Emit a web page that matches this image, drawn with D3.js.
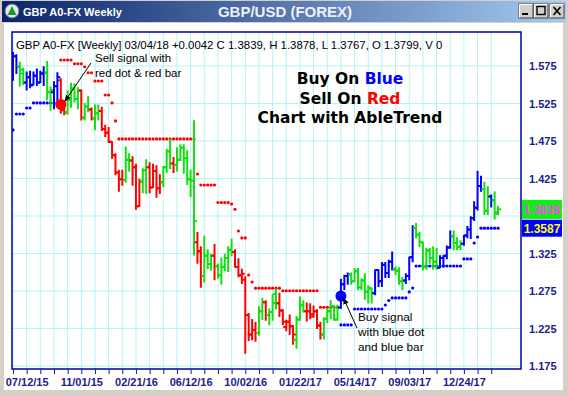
<!DOCTYPE html>
<html><head><meta charset="utf-8">
<script src="https://cdn.jsdelivr.net/npm/d3@7"></script>
<style>html,body{margin:0;padding:0;background:#d4d0c8;overflow:hidden}</style>
</head><body>
<svg id="c" width="568" height="396"></svg>
<script>
// ---------------- DATA ----------------
const firstWeek = "2015-06-14";
const lastWeek = "2018-03-04";
const open = [
1.566,1.588,1.574,1.565,1.553,1.560,1.550,1.562,1.553,1.565,
1.566,1.540,1.540,1.548,1.556,1.519,1.513,1.530,1.545,1.531,
1.542,1.506,1.521,1.517,1.505,1.512,1.515,1.491,1.486,1.474,
1.456,1.433,1.424,1.423,1.450,1.449,1.440,1.388,1.421,1.436,
1.440,1.413,1.435,1.412,1.420,1.440,1.461,1.445,1.443,1.450,
1.466,1.452,1.424,1.422,1.340,1.328,1.295,1.322,1.311,1.322,
1.308,1.296,1.307,1.319,1.330,1.327,1.307,1.296,1.290,1.243,
1.217,1.223,1.219,1.248,1.260,1.243,1.247,1.271,1.259,1.249,
1.227,1.234,1.228,1.210,1.237,1.256,1.248,1.248,1.244,1.248,
1.229,1.217,1.238,1.248,1.255,1.237,1.253,1.284,1.295,1.297,
1.288,1.301,1.280,1.289,1.274,1.278,1.272,1.303,1.288,1.310,
1.299,1.314,1.304,1.302,1.288,1.289,1.295,1.320,1.359,1.350,
1.340,1.307,1.329,1.319,1.314,1.306,1.319,1.322,1.333,1.348,
1.339,1.334,1.338,1.349,1.357,1.372,1.386,1.415,1.411,1.382,
1.401,1.396,1.3799];
const high = [
1.593,1.590,1.580,1.572,1.567,1.568,1.567,1.571,1.568,1.574,
1.581,1.547,1.554,1.566,1.558,1.523,1.542,1.552,1.551,1.546,
1.543,1.525,1.534,1.519,1.523,1.523,1.520,1.496,1.493,1.474,
1.458,1.436,1.436,1.467,1.458,1.454,1.444,1.424,1.438,1.450,
1.446,1.444,1.442,1.430,1.441,1.464,1.477,1.453,1.466,1.470,
1.470,1.462,1.436,1.502,1.353,1.334,1.348,1.330,1.324,1.337,
1.311,1.319,1.324,1.334,1.344,1.330,1.318,1.304,1.294,1.245,
1.237,1.233,1.254,1.265,1.262,1.251,1.270,1.2775,1.272,1.250,
1.236,1.243,1.229,1.241,1.267,1.262,1.259,1.258,1.255,1.250,
1.233,1.239,1.251,1.262,1.255,1.256,1.2905,1.296,1.299,1.299,
1.305,1.305,1.291,1.298,1.282,1.279,1.303,1.303,1.313,1.313,
1.316,1.327,1.307,1.306,1.293,1.298,1.320,1.362,1.365,1.353,
1.340,1.332,1.332,1.334,1.332,1.322,1.322,1.335,1.355,1.355,
1.346,1.342,1.349,1.361,1.374,1.394,1.4345,1.428,1.420,1.414,
1.403,1.407,1.3878];
const low = [
1.556,1.565,1.548,1.550,1.543,1.546,1.550,1.549,1.553,1.549,
1.530,1.516,1.518,1.523,1.512,1.510,1.511,1.520,1.527,1.518,
1.503,1.503,1.514,1.503,1.490,1.503,1.489,1.481,1.473,1.452,
1.430,1.408,1.416,1.420,1.435,1.416,1.384,1.388,1.406,1.405,
1.406,1.413,1.400,1.405,1.414,1.433,1.438,1.433,1.435,1.449,
1.432,1.417,1.401,1.323,1.312,1.280,1.287,1.305,1.303,1.290,
1.292,1.284,1.302,1.301,1.322,1.307,1.294,1.285,1.192,1.209,
1.210,1.208,1.216,1.237,1.236,1.230,1.236,1.251,1.241,1.230,
1.222,1.217,1.204,1.1986,1.236,1.247,1.235,1.238,1.240,1.225,
1.211,1.211,1.233,1.238,1.236,1.236,1.252,1.277,1.284,1.284,
1.288,1.277,1.277,1.264,1.259,1.259,1.270,1.281,1.281,1.293,
1.293,1.303,1.297,1.284,1.277,1.285,1.290,1.314,1.346,1.334,
1.303,1.304,1.312,1.304,1.304,1.306,1.307,1.318,1.332,1.330,
1.330,1.330,1.336,1.346,1.345,1.369,1.383,1.408,1.377,1.377,
1.387,1.371,1.3767];
const close = [
1.588,1.574,1.570,1.553,1.560,1.549,1.562,1.553,1.565,1.566,
1.540,1.543,1.548,1.560,1.516,1.513,1.530,1.545,1.531,1.543,
1.506,1.521,1.517,1.505,1.512,1.515,1.491,1.486,1.474,1.456,
1.433,1.424,1.423,1.450,1.449,1.440,1.388,1.421,1.436,1.440,
1.413,1.435,1.412,1.420,1.440,1.461,1.445,1.443,1.450,1.466,
1.452,1.424,1.422,1.368,1.328,1.295,1.322,1.311,1.322,1.308,
1.296,1.307,1.319,1.330,1.327,1.307,1.296,1.298,1.243,1.217,
1.223,1.219,1.248,1.260,1.243,1.247,1.259,1.258,1.249,1.234,
1.234,1.228,1.217,1.237,1.256,1.248,1.248,1.241,1.248,1.229,
1.217,1.238,1.248,1.255,1.237,1.253,1.284,1.295,1.297,1.288,
1.302,1.280,1.289,1.274,1.279,1.272,1.303,1.288,1.310,1.299,
1.314,1.304,1.302,1.288,1.289,1.295,1.320,1.359,1.350,1.340,
1.307,1.329,1.319,1.314,1.306,1.319,1.322,1.333,1.348,1.339,
1.334,1.338,1.349,1.357,1.372,1.386,1.415,1.411,1.382,1.401,
1.396,1.378,1.3839];
// AbleTrend bar colour per week: B = blue (up), R = red (down), G = green (neutral)
const barTrend = ("BBGGBBBBBBGGBBRRGGGGRGGRGGRRRRRRRGGRRRGGRRRRGGGRGGGGGGRRGGGRGGGGGRRRRRRRGGRGGGRRRRRGGGRRRRRGGGGGBBBGGGGGGGBBBBBBGGGBBBGGGGGGGBBBBGGGBBBBBBGGBGG").split("");
// AbleTrend stop dots
const stops = [
1.4897,
1.511,1.511,1.511,
1.519,1.519,
1.5257,1.5257,1.5257,1.5257,1.5257,1.5257,1.5257,1.5257,
1.583,1.583,1.583,1.583,
1.578,1.578,1.578,
1.574,
1.566,1.566,
1.555,1.555,1.555,
1.5363,1.5363,
1.5257,
1.5017,
1.4777,1.4777,1.4777,1.4777,1.4777,1.4777,1.4777,1.4777,1.4777,1.4777,1.4777,1.4777,
1.4777,1.4777,1.4777,1.4777,1.4777,1.4777,1.4777,1.4777,1.4777,1.4777,1.4777,
1.431,
1.4163,1.4163,1.4163,1.4163,1.4163,
1.393,1.393,1.393,1.393,
1.391,
1.384,
1.355,
1.3457,1.3457,
1.2963,
1.287,
1.2787,1.2787,1.2787,1.2787,1.2787,1.2787,1.2787,1.2787,
1.2753,1.2753,1.2753,1.2753,1.2753,1.2753,1.2753,1.2753,1.2753,1.2753,1.2753,
1.2533,1.2533,1.2533,1.2533,1.2533,1.2533,
1.2297,1.2297,1.2297,1.2297,
1.251,1.251,1.251,1.251,1.251,1.251,1.251,1.251,1.251,
1.2563,
1.2623,
1.2657,1.2657,1.2657,1.2657,1.2657,
1.2737,
1.279,
1.3083,1.3083,1.3083,1.3083,1.3083,1.3083,1.3083,1.3083,1.3083,1.3083,1.3083,1.3083,1.3083,1.3083,
1.3177,1.3177,1.3177,
1.339,
1.347,
1.3587,1.3587,1.3587,1.3587,1.3587,1.3587];
const sellSignal = {date: "2015-09-20", price: 1.5237};
const buySignal  = {date: "2017-04-16", price: 1.2683};
const xTickLabels = ["07/12/15","11/01/15","02/21/16","06/12/16","10/02/16","01/22/17","05/14/17","09/03/17","12/24/17"];
const yTickValues = [1.175,1.225,1.275,1.325,1.375,1.425,1.475,1.525,1.575];
const yHiddenLabel = 1.375; // covered by the last-price boxes in the reference
const lastClose = 1.3838;
const lastStop = 1.3587;
const headerText = "GBP A0-FX [Weekly] 03/04/18 +0.0042 C 1.3839, H 1.3878, L 1.3767, O 1.3799, V 0";

// ---------------- LAYOUT ----------------
const W = 568, H = 396;
const P = {l: 12, r: 521, t: 32, b: 369};
const svg = d3.select("#c");
const parse = d3.timeParse("%Y-%m-%d");
const parseMDY = d3.timeParse("%m/%d/%y");
const d0 = parse(firstWeek), d1 = parse(lastWeek);
const weeks = d3.timeWeek.range(d0, d3.timeDay.offset(d1, 1));
const bars = weeks.map((d, i) => ({date: d, o: open[i], h: high[i], l: low[i], c: close[i], t: barTrend[i], s: stops[i]}));

const x = d3.scaleTime().domain([d3.timeDay.offset(d0, -2), d3.timeDay.offset(d1, 47)]).range([P.l, P.r]);
const y = d3.scaleLinear().domain([1.171, 1.6203]).range([P.b, P.t]);

const colors = {B: "#0000ff", R: "#ff0000", G: "#10e010"};
const sellDate = parse(sellSignal.date), buyDate = parse(buySignal.date);
const font = "Liberation Sans, Arial, sans-serif";

// window frame
const defs = svg.append("defs");
const tg = defs.append("linearGradient").attr("id", "tb").attr("x1", 0).attr("x2", 1);
tg.append("stop").attr("offset", 0).attr("stop-color", "#0a246a");
tg.append("stop").attr("offset", 1).attr("stop-color", "#a6caf0");
const mk = defs.append("marker").attr("id", "arr").attr("viewBox", "0 0 10 10").attr("refX", 9).attr("refY", 5)
  .attr("markerWidth", 7).attr("markerHeight", 7).attr("orient", "auto-start-reverse").attr("markerUnits", "userSpaceOnUse");
mk.append("path").attr("d", "M0,1 L10,5 L0,9 z").attr("fill", "#000");

svg.append("rect").attr("width", W).attr("height", H).attr("fill", "#d4d0c8");
svg.append("rect").attr("x", 4).attr("y", 23).attr("width", 559).attr("height", 367).attr("fill", "#fff");
svg.append("rect").attr("x", 2).attr("y", 1).attr("width", 564).attr("height", 21).attr("fill", "url(#tb)");
// icon
svg.append("circle").attr("cx", 12).attr("cy", 11).attr("r", 7).attr("fill", "#e8e8e8").attr("stroke", "#5a6a8a");
svg.append("path").attr("d", "M12,6 L16.5,15 L7.5,15 Z").attr("fill", "#1a9a2a");
svg.append("text").attr("x", 23).attr("y", 15.5).attr("fill", "#fff")
  .attr("font-family", font).attr("font-weight", "bold").attr("font-size", 11)
  .text("GBP A0-FX Weekly");
svg.append("text").attr("x", 285).attr("y", 17).attr("text-anchor", "middle").attr("fill", "#eef0fa")
  .attr("font-family", font).attr("font-weight", "bold").attr("font-size", 15)
  .text("GBP/USD (FOREX)");
// window buttons
const btn = svg.append("g");
[[519, "min"], [534, "max"], [550, "close"]].forEach(([bx, k]) => {
  btn.append("rect").attr("x", bx).attr("y", 4).attr("width", 14).attr("height", 14).attr("fill", "#d4d0c8")
    .attr("stroke", "#404040").attr("stroke-width", 1);
  btn.append("path").attr("d", `M${bx+0.5},${17.5} V${4.5} H${bx+13.5}`).attr("fill", "none").attr("stroke", "#fff");
  if (k === "min") btn.append("rect").attr("x", bx + 3).attr("y", 13).attr("width", 6).attr("height", 2).attr("fill", "#000");
  if (k === "max") btn.append("rect").attr("x", bx + 3).attr("y", 6.5).attr("width", 8).attr("height", 8).attr("fill", "none").attr("stroke", "#000").attr("stroke-width", 1.4);
  if (k === "close") btn.append("path").attr("d", `M${bx+3.5},7 L${bx+10.5},15 M${bx+10.5},7 L${bx+3.5},15`).attr("stroke", "#000").attr("stroke-width", 1.6);
});

// plot area
svg.append("rect").attr("x", P.l).attr("y", P.t).attr("width", P.r - P.l).attr("height", P.b - P.t).attr("fill", "#fff");
const clip = defs.append("clipPath").attr("id", "pc");
clip.append("rect").attr("x", P.l).attr("y", P.t).attr("width", P.r - P.l).attr("height", P.b - P.t);
const g = svg.append("g").attr("clip-path", "url(#pc)");

const gridDates = d3.timeWeek.range(d0, d3.timeDay.offset(d1, 1), 4);
g.selectAll(".vg").data(gridDates).join("line")
  .attr("x1", d => x(d)).attr("x2", d => x(d)).attr("y1", P.t).attr("y2", P.b)
  .attr("stroke", "#b4f4f4").attr("stroke-width", 1);
g.selectAll(".hg").data(yTickValues).join("line")
  .attr("x1", P.l).attr("x2", P.r).attr("y1", d => y(d)).attr("y2", d => y(d))
  .attr("stroke", "#b4f4f4").attr("stroke-width", 1);

// stop dots
g.selectAll(".dot").data(bars).join("circle")
  .attr("cx", d => x(d.date)).attr("cy", d => y(d.s)).attr("r", 1.6)
  .attr("fill", d => (d.date >= sellDate && d.date < buyDate) ? colors.R : colors.B);

// OHLC bars
const bg = g.append("g");
bars.forEach(d => {
  const cx = x(d.date), col = colors[d.t];
  bg.append("line").attr("x1", cx).attr("x2", cx).attr("y1", y(d.h) - 0.5).attr("y2", y(d.l) + 0.5).attr("stroke", col).attr("stroke-width", 2);
  bg.append("line").attr("x1", cx - 3).attr("x2", cx).attr("y1", y(d.o)).attr("y2", y(d.o)).attr("stroke", col).attr("stroke-width", 2);
  bg.append("line").attr("x1", cx).attr("x2", cx + 3).attr("y1", y(d.c)).attr("y2", y(d.c)).attr("stroke", col).attr("stroke-width", 2);
});

// signal dots
g.append("circle").attr("cx", x(sellDate)).attr("cy", y(sellSignal.price)).attr("r", 5.5).attr("fill", colors.R);
g.append("circle").attr("cx", x(buyDate)).attr("cy", y(buySignal.price)).attr("r", 5.5).attr("fill", colors.B);

// border
svg.append("rect").attr("x", P.l).attr("y", P.t).attr("width", P.r - P.l).attr("height", P.b - P.t)
  .attr("fill", "none").attr("stroke", "#0000a8").attr("stroke-width", 1.5);

// x axis
const tickDates = xTickLabels.map(parseMDY);
const xAxis = d3.axisBottom(x).tickValues(gridDates).tickSize(5).tickFormat(d => {
  const k = tickDates.findIndex(t => Math.abs(t - d) < 864e5);
  return k >= 0 ? xTickLabels[k] : "";
});
const xg = svg.append("g").attr("transform", `translate(0,${P.b})`).call(xAxis);
xg.select(".domain").remove();
xg.selectAll("line").attr("stroke", "#1c1c8c");
xg.selectAll("text").attr("fill", "#1c1c8c").attr("font-family", font)
  .attr("font-weight", "bold").attr("font-size", 11).attr("dy", "0.85em");

// y axis
const yAxis = d3.axisRight(y).tickValues(yTickValues.filter(v => v !== yHiddenLabel)).tickSize(0).tickPadding(8).tickFormat(d3.format(".3f"));
const yg = svg.append("g").attr("transform", `translate(${P.r},0)`).call(yAxis);
yg.select(".domain").remove();
yg.selectAll("text").attr("fill", "#1c1c8c").attr("font-family", font)
  .attr("font-weight", "bold").attr("font-size", 11);

// price boxes
function priceBox(v, fill, txt, h) {
  const cy = y(v);
  svg.append("rect").attr("x", P.r + 1).attr("y", cy - h / 2).attr("width", 40).attr("height", h).attr("fill", fill);
  svg.append("text").attr("x", P.r + 21).attr("y", cy).attr("dy", "0.36em").attr("text-anchor", "middle")
    .attr("fill", txt).attr("font-family", font).attr("font-weight", "bold")
    .attr("font-size", 12).text(d3.format(".4f")(v));
}
priceBox(lastClose, "#10f010", "#ff40ff", 19);
priceBox(lastStop, "#0000ff", "#ffff00", 17);

// header
svg.append("text").attr("x", 16).attr("y", 49).attr("font-family", font).attr("font-size", 11.4).attr("fill", "#000").text(headerText);

// big title
const tt = svg.append("text").attr("x", 350).attr("text-anchor", "middle").attr("font-family", "DejaVu Sans, Verdana, sans-serif")
  .attr("font-weight", "bold").attr("font-size", 15.5).attr("fill", "#000");
const l1 = tt.append("tspan").attr("x", 350).attr("y", 84);
l1.append("tspan").text("Buy On ");
l1.append("tspan").attr("fill", "#0000ff").text("Blue");
const l2 = tt.append("tspan").attr("x", 350).attr("y", 103.5);
l2.append("tspan").text("Sell On ");
l2.append("tspan").attr("fill", "#ff0000").text("Red");
tt.append("tspan").attr("x", 350).attr("y", 123).text("Chart with AbleTrend");

// annotations
const sellTxt = svg.append("text").attr("font-family", font).attr("font-size", 11.5).attr("fill", "#000");
sellTxt.append("tspan").attr("x", 95).attr("y", 62).text("Sell signal with");
sellTxt.append("tspan").attr("x", 95).attr("y", 77).text("red dot & red bar");
svg.append("line").attr("x1", 91).attr("y1", 63).attr("x2", x(sellDate) + 4).attr("y2", y(sellSignal.price) - 3)
  .attr("stroke", "#000").attr("stroke-width", 1).attr("marker-end", "url(#arr)");

const buyTxt = svg.append("text").attr("font-family", font).attr("font-size", 11.8).attr("fill", "#000");
buyTxt.append("tspan").attr("x", 358).attr("y", 321).text("Buy signal");
buyTxt.append("tspan").attr("x", 358).attr("y", 336).text("with blue dot");
buyTxt.append("tspan").attr("x", 358).attr("y", 351).text("and blue bar");
svg.append("line").attr("x1", 357).attr("y1", 328).attr("x2", x(buyDate) + 2.5).attr("y2", y(buySignal.price) + 2)
  .attr("stroke", "#000").attr("stroke-width", 1).attr("marker-end", "url(#arr)");
</script>
</body></html>
